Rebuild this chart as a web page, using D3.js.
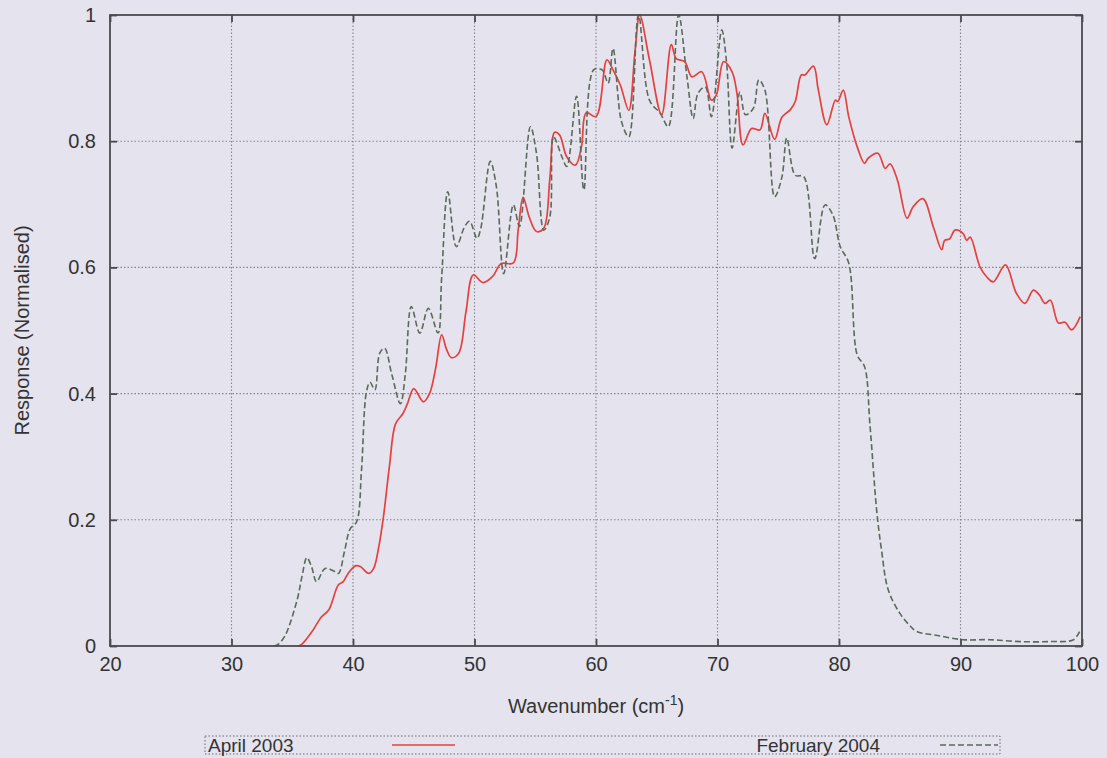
<!DOCTYPE html>
<html><head><meta charset="utf-8">
<script src="https://cdn.jsdelivr.net/npm/d3@7"></script>
<style>
html,body{margin:0;padding:0;background:#e4e3ee;}
svg{display:block;font-family:"Liberation Sans",Arial,sans-serif;}
</style></head>
<body>
<svg id="chart" width="1107" height="758"></svg>
<script>
// ---- data ----
const xTicks = [20, 30, 40, 50, 60, 70, 80, 90, 100];
const yTicks = [0, 0.2, 0.4, 0.6, 0.8, 1];
const yTickLabels = ["0", "0.2", "0.4", "0.6", "0.8", "1"];
const seriesNames = ["April 2003", "February 2004"];

const aprilX = [35.5,35.8,36.6,37.4,38.0,38.8,39.2,39.6,40.2,40.6,41.3,41.7,42.1,42.5,43.0,43.5,44.1,44.5,45.0,45.8,46.3,46.8,47.3,47.7,48.1,48.7,49.3,49.9,50.7,51.5,52.2,53.2,53.6,54.0,54.5,55.1,55.7,56.2,56.6,57.0,57.6,58.3,58.8,59.2,60.0,60.9,61.4,62.0,62.7,63.2,63.6,64.4,65.4,66.2,66.6,67.3,67.9,68.7,69.5,69.9,70.5,71.2,71.6,72.1,72.8,73.5,73.9,74.7,75.3,76.0,76.4,76.9,77.2,77.9,78.3,79.0,79.7,79.9,80.35,80.8,81.5,82.1,82.4,83.2,83.8,84.2,84.8,85.6,86.1,86.9,87.8,88.45,88.7,89.1,89.55,90.2,90.5,90.8,91.6,92.2,92.7,93.7,94.6,95.3,96.0,96.5,96.95,97.4,98.05,98.6,99.15,99.85];
const aprilY = [0,0.003,0.022,0.046,0.057,0.097,0.102,0.115,0.127,0.126,0.115,0.123,0.155,0.204,0.285,0.352,0.368,0.385,0.408,0.387,0.400,0.440,0.493,0.470,0.457,0.464,0.530,0.588,0.576,0.586,0.606,0.607,0.660,0.711,0.680,0.657,0.662,0.740,0.814,0.810,0.775,0.762,0.791,0.845,0.839,0.929,0.913,0.889,0.849,0.940,1.000,0.929,0.842,0.953,0.931,0.926,0.902,0.910,0.865,0.873,0.926,0.910,0.876,0.794,0.820,0.818,0.844,0.803,0.838,0.850,0.863,0.905,0.905,0.919,0.881,0.826,0.865,0.863,0.881,0.839,0.791,0.765,0.773,0.781,0.757,0.764,0.739,0.678,0.696,0.709,0.662,0.628,0.643,0.645,0.659,0.654,0.643,0.648,0.601,0.584,0.577,0.604,0.559,0.543,0.564,0.556,0.543,0.548,0.512,0.513,0.501,0.522];

const febX = [33.5,33.85,34.4,35.4,35.8,36.2,36.6,37.0,37.7,38.4,38.8,39.3,39.75,40.3,40.7,41.1,41.4,41.8,42.2,42.6,43.2,43.9,44.3,44.8,45.5,46.2,47.0,47.3,47.8,48.5,49.2,49.6,50.2,50.5,51.3,51.8,52.4,53.2,53.7,54.6,55.1,55.7,56.2,56.5,57.2,57.6,58.4,59.0,59.8,60.5,61.0,61.4,62.1,62.7,63.5,64.4,65.3,65.95,66.8,67.5,68.0,68.4,69.0,69.5,70.35,70.75,71.2,71.85,72.3,72.95,73.4,73.9,74.7,75.3,75.7,76.4,77.1,78.0,78.85,79.5,80.1,80.8,81.5,82.1,82.55,83.1,83.5,84.05,85.0,85.8,86.4,88.0,90.2,92.4,94.9,97.4,99.3,99.85];
const febY = [0,0.003,0.016,0.073,0.110,0.140,0.125,0.102,0.123,0.119,0.115,0.150,0.185,0.197,0.279,0.402,0.418,0.406,0.464,0.472,0.430,0.384,0.430,0.538,0.496,0.535,0.496,0.585,0.720,0.633,0.665,0.673,0.646,0.660,0.768,0.728,0.590,0.699,0.665,0.823,0.781,0.659,0.680,0.807,0.775,0.760,0.871,0.723,0.913,0.913,0.892,0.947,0.831,0.807,1.000,0.865,0.844,0.823,1.000,0.900,0.836,0.876,0.886,0.839,0.976,0.924,0.789,0.878,0.842,0.852,0.897,0.881,0.712,0.743,0.805,0.746,0.744,0.614,0.699,0.683,0.633,0.607,0.461,0.443,0.350,0.215,0.152,0.089,0.052,0.033,0.023,0.017,0.010,0.010,0.007,0.007,0.010,0.025];

// ---- layout ----
const M = {left:110, right:1082, top:15, bottom:646};
const svg = d3.select("#chart");
const x = d3.scaleLinear().domain([20,100]).range([M.left, M.right]);
const y = d3.scaleLinear().domain([0,1]).range([M.bottom, M.top]);
const fontSize = 20;
const textColor = "#333";

svg.append("rect").attr("width",1107).attr("height",758).attr("fill","#e4e3ee");

// grid
const grid = svg.append("g");
grid.selectAll("line.vx").data(xTicks.slice(1,-1)).join("line")
  .attr("x1",d=>x(d)).attr("x2",d=>x(d)).attr("y1",M.top).attr("y2",M.bottom)
  .attr("stroke","#85858e").attr("stroke-width",1.1).attr("stroke-dasharray","1.5,2");
grid.selectAll("line.hy").data(yTicks.slice(1,-1)).join("line")
  .attr("y1",d=>y(d)).attr("y2",d=>y(d)).attr("x1",M.left).attr("x2",M.right)
  .attr("stroke","#85858e").attr("stroke-width",1.1).attr("stroke-dasharray","1.5,2");

// clip
svg.append("clipPath").attr("id","clip").append("rect")
  .attr("x",M.left).attr("y",M.top-1).attr("width",M.right-M.left).attr("height",M.bottom-M.top+1);

const line = d3.line().x(d=>x(d[0])).y(d=>y(d[1])).curve(d3.curveCatmullRom.alpha(0.5));
const april = aprilX.map((v,i)=>[v,aprilY[i]]);
const feb = febX.map((v,i)=>[v,febY[i]]);

const plot = svg.append("g").attr("clip-path","url(#clip)");
plot.append("path").datum(april).attr("d",line).attr("fill","none")
  .attr("stroke","#e4413f").attr("stroke-width",1.7);
plot.append("path").datum(feb).attr("d",line).attr("fill","none")
  .attr("stroke","#5b6a5a").attr("stroke-width",1.6).attr("stroke-dasharray","6,3");

// frame
svg.append("rect").attr("x",M.left).attr("y",M.top).attr("width",M.right-M.left).attr("height",M.bottom-M.top)
  .attr("fill","none").attr("stroke","#4a4a50").attr("stroke-width",1.8);

// axes with inward ticks
const tickLen = 7;
const axB = svg.append("g").attr("transform",`translate(0,${M.bottom})`)
  .call(d3.axisBottom(x).tickValues(xTicks).tickSizeInner(-tickLen).tickSizeOuter(0).tickPadding(11).tickFormat(d3.format("d")));
const axT = svg.append("g").attr("transform",`translate(0,${M.top})`)
  .call(d3.axisTop(x).tickValues(xTicks).tickSizeInner(-tickLen).tickSizeOuter(0).tickFormat(""));
const axL = svg.append("g").attr("transform",`translate(${M.left},0)`)
  .call(d3.axisLeft(y).tickValues(yTicks).tickSizeInner(-tickLen).tickSizeOuter(0).tickPadding(14).tickFormat((d,i)=>yTickLabels[i]));
const axR = svg.append("g").attr("transform",`translate(${M.right},0)`)
  .call(d3.axisRight(y).tickValues(yTicks).tickSizeInner(-tickLen).tickSizeOuter(0).tickFormat(""));
[axB,axT,axL,axR].forEach(a=>{
  a.select(".domain").remove();
  a.selectAll(".tick line").attr("stroke","#4a4a50").attr("stroke-width",1.8);
  a.selectAll("text").attr("font-size",fontSize).attr("fill",textColor).attr("font-family","'Liberation Sans',Arial,sans-serif");
});

// axis titles
const xt = svg.append("text").attr("x",(M.left+M.right)/2).attr("y",713).attr("text-anchor","middle")
  .attr("font-size",fontSize).attr("fill",textColor);
xt.append("tspan").text("Wavenumber (cm");
xt.append("tspan").attr("dy",-8).attr("font-size",14).text("-1");
xt.append("tspan").attr("dy",8).text(")");

svg.append("text").attr("transform",`translate(29,${(M.top+M.bottom)/2}) rotate(-90)`)
  .attr("text-anchor","middle").attr("font-size",fontSize).attr("fill",textColor)
  .text("Response (Normalised)");

// legend
const lg = svg.append("g");
lg.append("rect").attr("x",205).attr("y",736).attr("width",795).attr("height",18)
  .attr("fill","none").attr("stroke","#6a6a70").attr("stroke-width",1).attr("stroke-dasharray","1.5,2");
lg.append("text").attr("x",208).attr("y",752).attr("font-size",19).attr("fill",textColor).text(seriesNames[0]);
lg.append("line").attr("x1",392).attr("x2",455).attr("y1",745).attr("y2",745)
  .attr("stroke","#e4413f").attr("stroke-width",1.7);
lg.append("text").attr("x",880).attr("y",752).attr("text-anchor","end").attr("font-size",19).attr("fill",textColor).text(seriesNames[1]);
lg.append("line").attr("x1",940).attr("x2",998).attr("y1",745).attr("y2",745)
  .attr("stroke","#5b6a5a").attr("stroke-width",1.6).attr("stroke-dasharray","6,3");
</script>
</body></html>
